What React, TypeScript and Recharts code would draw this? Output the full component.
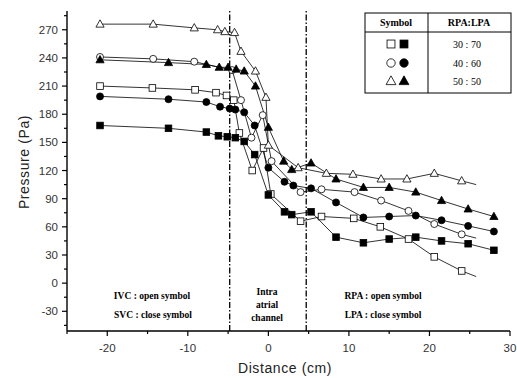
import React from "react";
import { LineChart, Line, XAxis, YAxis, ReferenceLine } from "recharts";

type Pt = [number, number];

// distance (cm), pressure (Pa)
const openSquare: Pt[] = [
  [-20.9, 210], [-14.4, 208], [-9.1, 206], [-6.5, 203], [-5.2, 200], [-4.3, 195],
  [-3.6, 160], [-2.0, 120], [-0.6, 144], [0.3, 95], [4.0, 66], [6.6, 71],
  [10.6, 69], [13.9, 60], [17.4, 47], [20.6, 28], [24.0, 13], [25.8, 7],
];
const filledSquare: Pt[] = [
  [-20.9, 168], [-12.4, 165], [-7.7, 161], [-6.2, 157], [-5.1, 156], [-4.1, 155],
  [-3.0, 151], [-1.7, 137], [0, 94], [2.0, 76], [2.9, 73], [5.3, 76],
  [8.4, 49], [11.8, 43], [15, 47], [18.3, 49], [21.5, 45], [24.8, 42], [28, 35],
];
const openCircle: Pt[] = [
  [-20.9, 241], [-14.3, 239], [-9.2, 236], [-4.5, 227], [-3.4, 195], [-2.1, 155],
  [-0.7, 179], [0.4, 130], [4.0, 97], [6.6, 100], [10.7, 97], [14, 88],
  [17.4, 77], [20.6, 63], [24, 52], [25.8, 48],
];
const filledCircle: Pt[] = [
  [-20.9, 199], [-12.4, 196], [-7.7, 193], [-6.0, 188], [-4.8, 186], [-4.1, 185],
  [-3.0, 182], [-1.7, 168], [0, 123], [2.0, 108], [3.1, 104], [5.3, 101],
  [8.4, 86], [11.8, 70], [15, 71], [18.3, 72], [21.5, 67], [24.8, 61], [28, 55],
];
const openTriangle: Pt[] = [
  [-20.9, 276], [-14.3, 276], [-9.2, 272], [-6.3, 270], [-5.4, 268], [-4.2, 267],
  [-3.4, 247], [-1.6, 226], [-0.3, 198], [0, 147], [3.7, 123], [7.2, 117],
  [10.5, 116], [14, 111], [17.2, 111], [20.6, 117], [24, 109], [25.8, 105],
];
const filledTriangle: Pt[] = [
  [-20.9, 238], [-12.4, 235], [-7.7, 233], [-6.1, 230], [-5.0, 230], [-4.0, 228],
  [-3.0, 226], [-1.6, 210], [0, 166], [1.9, 130], [2.9, 121], [5.3, 128],
  [8.4, 111], [11.8, 102], [15, 102], [18.3, 97], [21.5, 88], [24.8, 79], [28, 71],
];

const xMajor = [-20, -10, 0, 10, 20, 30];
const xMinor = [-25, -15, -5, 5, 15, 25];
const yMajor = [-30, 0, 30, 60, 90, 120, 150, 180, 210, 240, 270];
const yMinor = [-45, -15, 15, 45, 75, 105, 135, 165, 195, 225, 255, 285];

const channelEdges = [-4.8, 4.7];
const ratios = ["30 : 70", "40 : 60", "50 : 50"];
const legendShapes: Shape[] = ["square", "circle", "triangle"];

type Shape = "square" | "circle" | "triangle";

const series: { name: string; data: Pt[]; shape: Shape; filled: boolean; tail: boolean }[] = [
  { name: "IVC-RPA 30:70", data: openSquare, shape: "square", filled: false, tail: true },
  { name: "SVC-LPA 30:70", data: filledSquare, shape: "square", filled: true, tail: false },
  { name: "IVC-RPA 40:60", data: openCircle, shape: "circle", filled: false, tail: true },
  { name: "SVC-LPA 40:60", data: filledCircle, shape: "circle", filled: true, tail: false },
  { name: "IVC-RPA 50:50", data: openTriangle, shape: "triangle", filled: false, tail: true },
  { name: "SVC-LPA 50:50", data: filledTriangle, shape: "triangle", filled: true, tail: false },
];

const SANS = "'Liberation Sans', Arial, sans-serif";
const SERIF = "'Liberation Serif', 'Times New Roman', serif";

function Marker({ cx, cy, shape, filled, size = 1 }: { cx: number; cy: number; shape: Shape; filled: boolean; size?: number }) {
  const fill = filled ? "#000" : "#fff";
  if (shape === "square") {
    const s = 3.3 * size;
    return <rect x={cx - s} y={cy - s} width={s * 2} height={s * 2} fill={fill} stroke="#000" strokeWidth={0.8} />;
  }
  if (shape === "circle") {
    return <circle cx={cx} cy={cy} r={3.5 * size} fill={fill} stroke="#000" strokeWidth={0.8} />;
  }
  const h = 4.3 * size;
  const w = 4.1 * size;
  return (
    <polygon
      points={`${cx},${cy - h} ${cx - w},${cy + h * 0.7} ${cx + w},${cy + h * 0.7}`}
      fill={fill}
      stroke="#000"
      strokeWidth={0.8}
    />
  );
}

function XTick({ x, y, payload }: any) {
  const major = xMajor.includes(payload.value);
  return (
    <g>
      <line x1={x} x2={x} y1={y} y2={y + (major ? 5 : 3)} stroke="#000" strokeWidth={1.2} />
      {major && (
        <text x={x} y={y + 21} textAnchor="middle" fontSize={11.5} fill="#333" fontFamily={SANS}>
          {payload.value}
        </text>
      )}
    </g>
  );
}

function YTick({ x, y, payload }: any) {
  const major = yMajor.includes(payload.value);
  return (
    <g>
      <line x1={x - (major ? 5 : 3)} x2={x} y1={y} y2={y} stroke="#000" strokeWidth={1.2} />
      {major && (
        <text x={x - 9} y={y + 4} textAnchor="end" fontSize={11.5} fill="#333" fontFamily={SANS}>
          {payload.value}
        </text>
      )}
    </g>
  );
}

export default function App() {
  return (
    <div style={{ position: "absolute", left: 0, top: 0, width: 517, height: 378, background: "#fff" }}>
      <LineChart width={517} height={378} margin={{ top: 11, right: 7, bottom: 0, left: 0 }}>
        <XAxis
          type="number"
          dataKey="x"
          domain={[-25, 30]}
          ticks={[...xMajor, ...xMinor]}
          interval={0}
          tick={<XTick />}
          tickSize={0}
          tickMargin={0}
          height={47}
          axisLine={{ stroke: "#000", strokeWidth: 1.4 }}
          allowDataOverflow
        />
        <YAxis
          type="number"
          domain={[-51, 290]}
          ticks={[...yMajor, ...yMinor]}
          interval={0}
          tick={<YTick />}
          tickSize={0}
          tickMargin={0}
          width={67}
          axisLine={{ stroke: "#000", strokeWidth: 1.4 }}
          allowDataOverflow
        />
        {channelEdges.map((e) => (
          <ReferenceLine key={e} x={e} stroke="#000" strokeWidth={1.3} strokeDasharray="6 2 1.5 2" />
        ))}
        {series.map((s) => (
          <Line
            key={s.name}
            name={s.name}
            data={s.data.map(([x, y]) => ({ x, y }))}
            dataKey="y"
            type="linear"
            stroke="#000"
            strokeWidth={0.8}
            isAnimationActive={false}
            dot={(p: any) =>
              s.tail && p.index === s.data.length - 1 ? (
                <g key={p.index} />
              ) : (
                <g key={p.index}>
                  <Marker cx={p.cx} cy={p.cy} shape={s.shape} filled={s.filled} />
                </g>
              )
            }
          />
        ))}
      </LineChart>
      <svg width={517} height={378} style={{ position: "absolute", left: 0, top: 0, pointerEvents: "none" }}>
        {/* legend table */}
        <rect x={365} y={13} width={146} height={80} fill="#fff" stroke="#000" strokeWidth={1} />
        <line x1={428} x2={428} y1={13} y2={93} stroke="#000" strokeWidth={1} />
        <line x1={365} x2={511} y1={32} y2={32} stroke="#000" strokeWidth={1} />
        <text x={396} y={26} textAnchor="middle" fontSize={10} fontWeight="bold" fontFamily={SERIF}>Symbol</text>
        <text x={469} y={26} textAnchor="middle" fontSize={10} fontWeight="bold" fontFamily={SERIF}>RPA:LPA</text>
        {ratios.map((r, i) => {
          const cy = [44, 63, 81][i];
          return (
            <g key={r}>
              <Marker cx={391} cy={cy} shape={legendShapes[i]} filled={false} size={1.2} />
              <Marker cx={404} cy={cy} shape={legendShapes[i]} filled size={1.2} />
              <text x={467} y={cy + 3.5} textAnchor="middle" fontSize={10} fontFamily={SERIF}>{r}</text>
            </g>
          );
        })}
        {/* region notes */}
        <g fontSize={9.5} fontWeight="bold" fontFamily={SERIF} textAnchor="middle">
          <text x={152} y={299}>IVC : open symbol</text>
          <text x={153} y={318}>SVC : close symbol</text>
          <text x={267} y={295}>Intra</text>
          <text x={267} y={308}>atrial</text>
          <text x={267} y={321}>channel</text>
          <text x={383} y={299}>RPA : open symbol</text>
          <text x={383} y={318}>LPA : close symbol</text>
        </g>
        <text x={285} y={373} textAnchor="middle" fontSize={14} letterSpacing={0.6} fill="#222" fontFamily={SANS}>
          Distance (cm)
        </text>
        <text
          transform="translate(29,162) rotate(-90)"
          textAnchor="middle"
          fontSize={14}
          letterSpacing={0.6}
          fill="#222"
          fontFamily={SANS}
        >
          Pressure (Pa)
        </text>
      </svg>
    </div>
  );
}
